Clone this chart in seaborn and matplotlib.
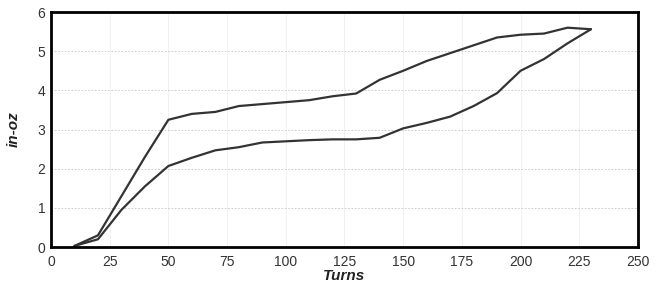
import matplotlib
matplotlib.use("Agg")
import matplotlib.pyplot as plt
import seaborn as sns
import pandas as pd

turns = [10, 20, 30, 40, 50, 60, 70, 80, 90, 100, 110, 120, 130, 140, 150,
         160, 170, 180, 190, 200, 210, 220, 230]
upper = [0.03, 0.30, 1.30, 2.30, 3.25, 3.40, 3.45, 3.60, 3.65, 3.70, 3.75, 3.85,
         3.92, 4.27, 4.50, 4.75, 4.95, 5.15, 5.35, 5.42, 5.45, 5.60, 5.56]
lower = [0.03, 0.20, 0.95, 1.55, 2.07, 2.28, 2.47, 2.55, 2.67, 2.70, 2.73, 2.75,
         2.75, 2.79, 3.03, 3.17, 3.33, 3.60, 3.93, 4.50, 4.80, 5.20, 5.56]
xticks = [0, 25, 50, 75, 100, 125, 150, 175, 200, 225, 250]
yticks = [0, 1, 2, 3, 4, 5, 6]

sns.set_style("white")
plt.rcParams['font.family'] = ['Liberation Sans', 'DejaVu Sans']

df = pd.concat([
    pd.DataFrame({"Turns": turns, "in-oz": upper, "curve": "upper"}),
    pd.DataFrame({"Turns": turns, "in-oz": lower, "curve": "lower"}),
])

fig = plt.figure(figsize=(6.58, 2.86), dpi=100)
ax = fig.add_axes([0.0775, 0.136, 0.892, 0.822])
sns.lineplot(data=df, x="Turns", y="in-oz", units="curve", estimator=None,
             sort=False, color="#333333", linewidth=1.6, ax=ax)

ax.set_xlim(0, 250)
ax.set_ylim(0, 6)
ax.set_xticks(xticks)
ax.set_yticks(yticks)
ax.grid(axis="y", color="#c4c4c4", linestyle=(0, (2, 2)), linewidth=0.6)
ax.grid(axis="x", color="#ececec", linestyle="-", linewidth=0.5)
for s in ax.spines.values():
    s.set_visible(True)
    s.set_color("black")
    s.set_linewidth(2.0)
ax.tick_params(axis="both", labelsize=10, colors="#333333", length=0)
ax.tick_params(axis="x", pad=6)
ax.tick_params(axis="y", pad=4)
ax.set_xlabel("Turns", fontsize=11, fontweight="bold", fontstyle="italic",
              color="#222222", labelpad=0)
ax.set_ylabel("in-oz", fontsize=11, fontweight="bold", fontstyle="italic",
              color="#222222", labelpad=12)

fig.savefig("out.png", dpi=100)
